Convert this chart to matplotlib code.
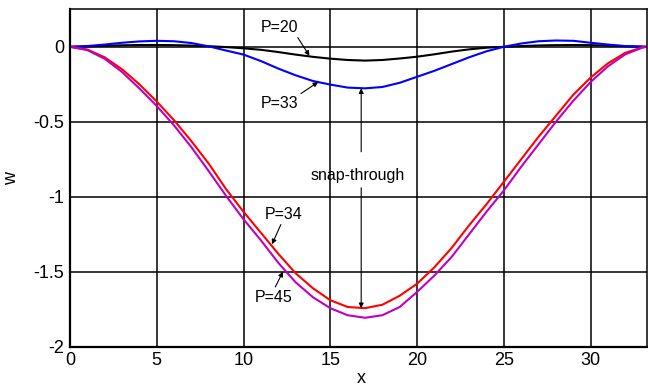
import matplotlib
matplotlib.use("Agg")
import matplotlib.pyplot as plt

plt.rcParams['font.family'] = ['Liberation Sans', 'DejaVu Sans']
plt.rcParams['axes.unicode_minus'] = False

x = [0, 1, 2, 3, 4, 5, 6, 7, 8, 9, 10, 11, 12, 13, 14, 15, 16, 17, 18, 19, 20,
     21, 22, 23, 24, 25, 26, 27, 28, 29, 30, 31, 32, 33, 33.25]

w_p20 = [0, 0.003, 0.007, 0.010, 0.012, 0.012, 0.011, 0.008, 0.004, -0.002, -0.010,
         -0.020, -0.035, -0.052, -0.067, -0.079, -0.088, -0.092, -0.088, -0.078, -0.066,
         -0.050, -0.032, -0.017, -0.006, 0.000, 0.005, 0.009, 0.011, 0.012, 0.011,
         0.008, 0.004, 0.001, 0]

w_p33 = [0, 0.005, 0.015, 0.027, 0.036, 0.040, 0.037, 0.025, 0.003, -0.025, -0.052,
         -0.095, -0.145, -0.190, -0.228, -0.252, -0.272, -0.277, -0.268, -0.240, -0.200,
         -0.160, -0.115, -0.070, -0.030, 0.000, 0.022, 0.037, 0.042, 0.040, 0.027,
         0.015, 0.005, 0.001, 0]

w_p34 = [0, -0.018, -0.070, -0.150, -0.250, -0.365, -0.490, -0.630, -0.780, -0.950, -1.100,
         -1.240, -1.380, -1.510, -1.610, -1.690, -1.735, -1.743, -1.720, -1.660, -1.580,
         -1.470, -1.340, -1.190, -1.050, -0.900, -0.750, -0.600, -0.460, -0.320, -0.205,
         -0.110, -0.040, -0.003, 0]

w_p45 = [0, -0.022, -0.080, -0.168, -0.278, -0.395, -0.525, -0.670, -0.830, -0.995, -1.150,
         -1.290, -1.440, -1.570, -1.670, -1.743, -1.790, -1.807, -1.790, -1.735, -1.635,
         -1.525, -1.400, -1.250, -1.100, -0.958, -0.800, -0.650, -0.500, -0.360, -0.235,
         -0.130, -0.050, -0.005, 0]

xticks = [0, 5, 10, 15, 20, 25, 30]
yticks = [0, -0.5, -1, -1.5, -2]
ytick_labels = ['0', '-0.5', '-1', '-1.5', '-2']

fig = plt.figure(figsize=(6.48, 3.88), dpi=100)
ax = fig.add_axes([0.108, 0.1064, 0.8905, 0.8696])

ax.plot(x, w_p20, color='black', lw=1.5)
ax.plot(x, w_p33, color='#0000ff', lw=1.5)
ax.plot(x, w_p34, color='#ff0000', lw=1.5)
ax.plot(x, w_p45, color='#bf00bf', lw=1.5)

ax.set_xlim(0, 33.25)
ax.set_ylim(-2, 0.25)
ax.set_xticks(xticks)
ax.set_xticklabels([str(t) for t in xticks])
ax.set_yticks(yticks)
ax.set_yticklabels(ytick_labels)
ax.tick_params(axis='both', length=0, labelsize=13, pad=4)
ax.grid(True, color='black', lw=1.1, ls='-')
ax.set_axisbelow(True)
for side in ['left', 'bottom']:
    ax.spines[side].set_linewidth(1.6)
for side in ['top', 'right']:
    ax.spines[side].set_linewidth(1.1)

ax.set_xlabel('x', fontsize=13)
ax.set_ylabel('w', fontsize=13)
ax.xaxis.set_label_coords(0.505, -0.068)
ax.yaxis.set_label_coords(-0.086, 0.5)

arrow = dict(arrowstyle='-|>', color='black', lw=0.8, mutation_scale=7, shrinkA=0, shrinkB=0)
fs = 11.5
ax.annotate('P=20', xy=(13.8, -0.06), xytext=(12.05, 0.13), fontsize=fs,
            ha='center', va='center', arrowprops=dict(arrow, relpos=(0.95, 0.0)))
ax.annotate('P=33', xy=(14.3, -0.235), xytext=(12.1, -0.38), fontsize=fs,
            ha='center', va='center', arrowprops=dict(arrow, relpos=(0.95, 1.0)))
ax.annotate('P=34', xy=(11.64, -1.317), xytext=(12.33, -1.117), fontsize=fs,
            ha='center', va='center', arrowprops=dict(arrow, relpos=(0.45, 0.0)))
ax.annotate('P=45', xy=(12.27, -1.50), xytext=(11.75, -1.67), fontsize=fs,
            ha='center', va='center', arrowprops=dict(arrow, relpos=(0.5, 1.0)))

ax.text(16.55, -0.855, 'snap-through', fontsize=fs, ha='center', va='center')
ax.annotate('', xy=(16.78, -0.277), xytext=(16.78, -0.70), arrowprops=arrow)
ax.annotate('', xy=(16.78, -1.743), xytext=(16.78, -0.94), arrowprops=arrow)

fig.savefig('out.png', dpi=100)
